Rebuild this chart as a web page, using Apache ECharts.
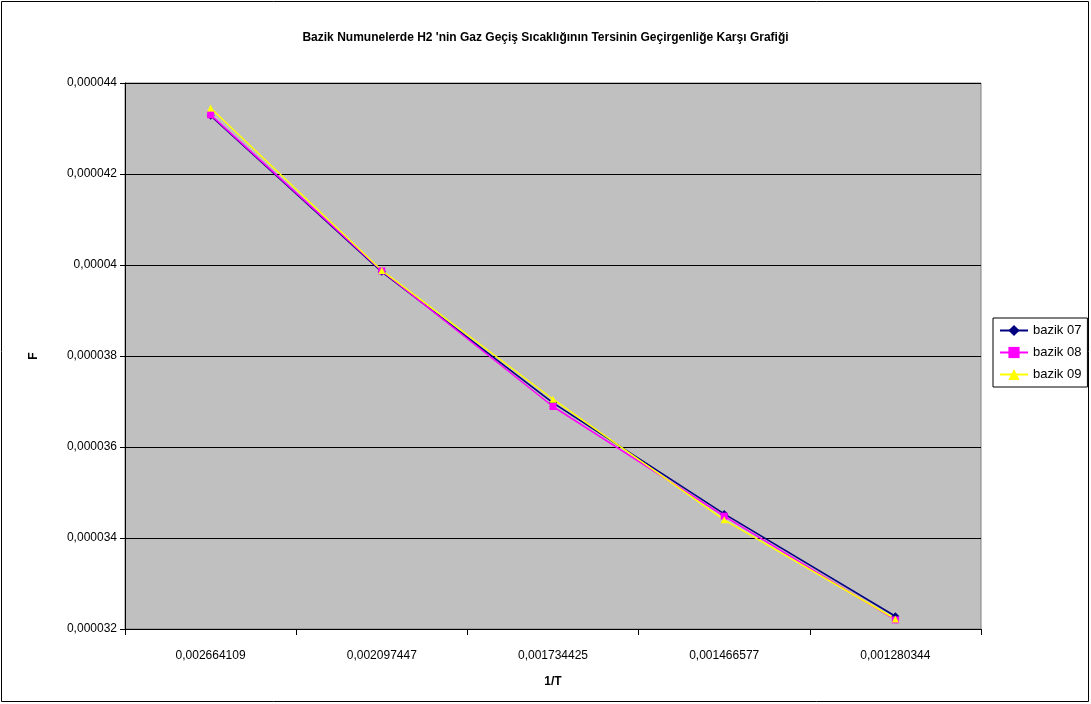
<!DOCTYPE html>
<html><head><meta charset="utf-8">
<script src="https://cdn.jsdelivr.net/npm/echarts@6/dist/echarts.min.js"></script>
<style>html,body{margin:0;padding:0;background:#fff}#c{width:1091px;height:704px}</style>
</head><body><div id="c"></div>
<script>
const categories = ['0,002664109','0,002097447','0,001734425','0,001466577','0,001280344'];
const bazik07 = [0.00004328, 0.00003985, 0.00003697, 0.00003453, 0.00003228];
const bazik08 = [0.00004330, 0.00003987, 0.00003689, 0.00003448, 0.00003220];
const bazik09 = [0.00004345, 0.00003988, 0.00003705, 0.00003440, 0.00003222];
const yTicks = {min: 0.000032, max: 0.000044, interval: 0.000002};

const font = 'Liberation Sans, Arial, sans-serif';
const chart = echarts.init(document.getElementById('c'), null, {renderer:'canvas'});
function fmt(v){ let s = (Math.round(v*1e6)/1e6).toFixed(6).replace(/0+$/,'').replace(/\.$/,''); return s.replace('.',','); }
function ser(name, data, color, symbol){
  return {name, type:'line', data, symbol, symbolSize: symbol==='diamond'?8:7,
    lineStyle:{color, width:1.5}, itemStyle:{color}, animation:false};
}
chart.setOption({
  animation:false,
  textStyle:{fontFamily:font},
  title:{text:"Bazik Numunelerde H2 'nin Gaz Geçiş Sıcaklığının Tersinin Geçirgenliğe Karşı Grafiği",
    left:'center', top:27, textStyle:{fontSize:12, fontWeight:'bold', color:'#000', fontFamily:font}},
  graphic:[{type:'rect', shape:{x:1.5,y:1.5,width:1087,height:700}, style:{fill:null, stroke:'#000', lineWidth:1}, silent:true}],
  legend:{orient:'vertical', left:993, top:318, width:95, padding:[6,6,6,6], itemGap:9,
    itemWidth:28, itemHeight:14, backgroundColor:'#fff', borderColor:'#000', borderWidth:1, borderRadius:0,
    textStyle:{fontSize:13, color:'#000', fontFamily:font},
    data:['bazik 07','bazik 08','bazik 09']},
  grid:{left:125, right:110, top:83, bottom:75, show:true, backgroundColor:'#C0C0C0', borderColor:'#808080', borderWidth:1},
  xAxis:{type:'category', data:categories, boundaryGap:true,
    name:'1/T', nameLocation:'middle', nameGap:47, nameTextStyle:{fontWeight:'bold', fontSize:12, color:'#000'},
    axisLine:{lineStyle:{color:'#000', width:1}},
    axisTick:{show:true, alignWithLabel:false, length:6, lineStyle:{color:'#000'}},
    axisLabel:{fontSize:12, color:'#000', margin:21}, splitLine:{show:false}},
  yAxis:{type:'value', min:yTicks.min, max:yTicks.max, interval:yTicks.interval,
    name:'F', nameLocation:'middle', nameGap:85, nameRotate:90, nameTextStyle:{fontWeight:'bold', fontSize:12, color:'#000'},
    axisLine:{show:true, lineStyle:{color:'#000'}},
    axisTick:{show:true, length:5, lineStyle:{color:'#000'}},
    axisLabel:{fontSize:12, color:'#000', margin:8, formatter:fmt},
    splitLine:{show:true, lineStyle:{color:'#000', width:1}}},
  series:[ser('bazik 07', bazik07, '#000080', 'diamond'),
          ser('bazik 08', bazik08, '#FF00FF', 'rect'),
          ser('bazik 09', bazik09, '#FFFF00', 'triangle')]
});
</script></body></html>
